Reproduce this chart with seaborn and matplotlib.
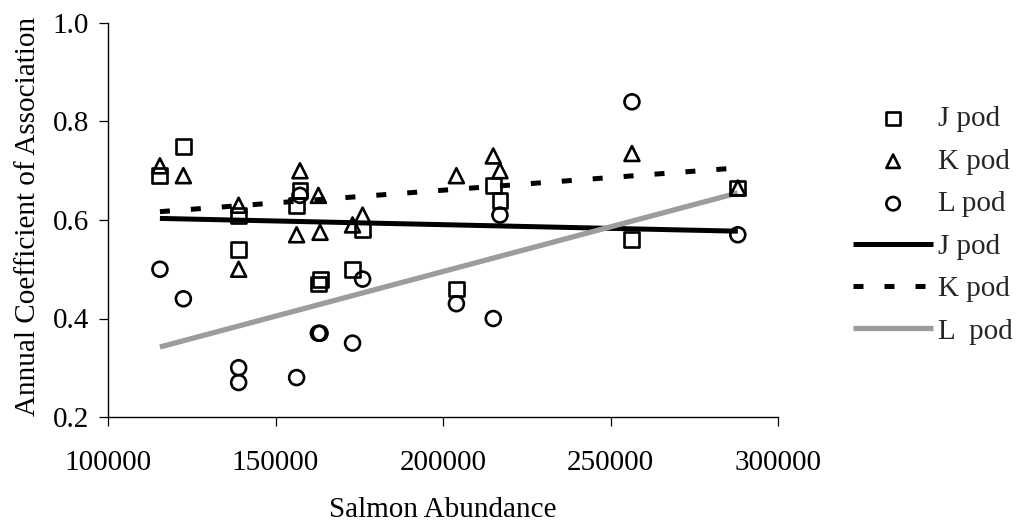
import matplotlib
matplotlib.use("Agg")
import matplotlib.pyplot as plt
import seaborn as sns

# ---- data ----
salmon = [115500, 122500, 139000, 139000, 157300, 156300, 162800, 163300,
          173000, 176000, 204000, 215000, 217000, 256400, 288000]
j_pod = [0.69, 0.75, 0.61, 0.54, 0.66, 0.63, 0.47, 0.48,
         0.50, 0.58, 0.46, 0.67, 0.64, 0.56, 0.665]
k_pod = [0.71, 0.69, 0.63, 0.50, 0.70, 0.57, 0.65, 0.575,
         0.59, 0.61, 0.69, 0.73, 0.70, 0.735, 0.665]
l_pod = [0.50, 0.44, 0.30, 0.27, 0.65, 0.28, 0.37, 0.37,
         0.35, 0.48, 0.43, 0.40, 0.61, 0.84, 0.57]
x_ticks = [100000, 150000, 200000, 250000, 300000]
y_ticks = [0.2, 0.4, 0.6, 0.8, 1.0]

sns.set_style("ticks")
plt.rcParams["font.family"] = ["Liberation Serif", "DejaVu Serif"]

W, H = 1016, 527
FS = 21
fig = plt.figure(figsize=(W / 100, H / 100), dpi=100)
left, right, top, bottom = 108, 778, 23, 417
ax = fig.add_axes([left / W, 1 - bottom / H, (right - left) / W, (bottom - top) / H])

# scatter markers (hollow)
for vals, mk, lab in [(j_pod, "s", "J pod"), (k_pod, "^", "K pod"), (l_pod, "o", "L pod")]:
    sns.scatterplot(x=salmon, y=vals, marker=mk, s=115, facecolor="none",
                    edgecolor="black", linewidth=1.9, label=lab, ax=ax, zorder=3)

# regression lines
sns.regplot(x=salmon, y=j_pod, scatter=False, ci=None, color="black",
            label="J pod", line_kws=dict(lw=3.6, solid_capstyle="butt"), ax=ax)
sns.regplot(x=salmon, y=k_pod, scatter=False, ci=None, color="black",
            label="K pod", line_kws=dict(lw=3.6, dashes=(2.0, 4.2)), ax=ax)
sns.regplot(x=salmon, y=l_pod, scatter=False, ci=None, color="#9c9c9c",
            label="L  pod", line_kws=dict(lw=3.8, solid_capstyle="butt"), ax=ax)

ax.set_xlim(100000, 300000)
ax.set_ylim(0.2, 1.0)
ax.set_xticks(x_ticks)
ax.set_yticks(y_ticks)
ax.ticklabel_format(axis="x", style="plain", useOffset=False)
ax.yaxis.set_major_formatter(matplotlib.ticker.FormatStrFormatter("%.1f"))
sns.despine(ax=ax)
for s in ("left", "bottom"):
    ax.spines[s].set_linewidth(1.0)
    ax.spines[s].set_color("black")
ax.tick_params(axis="both", direction="out", length=6.5, width=0.9,
               color="black", labelsize=FS, labelcolor="black")
ax.tick_params(axis="x", pad=17)
ax.tick_params(axis="y", pad=7)

ax.set_xlabel("Salmon Abundance", fontsize=FS, color="black")
ax.xaxis.set_label_coords(0.5, (bottom - 497) / (bottom - top))
ax.set_ylabel("Annual Coefficient of Association", fontsize=FS, color="black", va="center")
ax.yaxis.set_label_coords((28 - left) / (right - left), (bottom - 216) / (bottom - top))

handles, labels = ax.get_legend_handles_labels()
ax.legend(handles, labels, loc="upper left", bbox_to_anchor=(853 / W, 1 - 106 / H),
          bbox_transform=fig.transFigure, frameon=False, fontsize=FS,
          handlelength=2.75, handletextpad=0.15, labelspacing=0.55,
          borderpad=0, borderaxespad=0, scatterpoints=1, markerscale=0.9)

fig.savefig("out.png", dpi=100)
